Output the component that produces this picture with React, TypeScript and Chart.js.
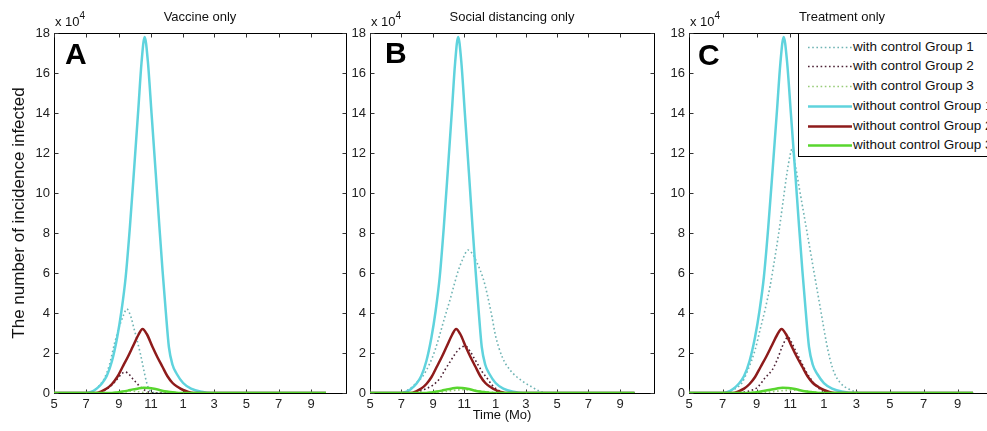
import React, { useEffect, useRef } from 'react';
import { Chart, registerables } from 'chart.js';

Chart.register(...registerables);

// ---- axis definitions ----
const xMaxDay = 554;
const xTickDays = [0, 61, 123, 184, 245, 304, 365, 426, 488];
const xTickLabels = ['5', '7', '9', '11', '1', '3', '5', '7', '9'];
const yTicks = [0, 2, 4, 6, 8, 10, 12, 14, 16, 18];

// ---- without control (same in every panel), values in x10^4 ----
const noCtrlG1Days = [0, 60, 70, 80, 90, 100, 110, 120, 128, 136, 144, 152, 160, 166, 172, 178, 185, 193, 200, 206, 212, 218, 225, 233, 245, 260, 280, 300, 516];
const noCtrlG1Vals = [0, 0, 0.05, 0.2, 0.45, 0.85, 1.6, 2.8, 4.1, 5.8, 8.3, 11.2, 14.2, 16.5, 17.8, 16.6, 14.0, 11.0, 8.3, 6.1, 4.1, 2.3, 1.4, 0.95, 0.5, 0.22, 0.06, 0, 0];
const noCtrlG2Days = [0, 80, 90, 100, 110, 120, 130, 140, 150, 160, 168, 176, 187, 196, 206, 215, 225, 235, 245, 255, 265, 516];
const noCtrlG2Vals = [0, 0, 0.08, 0.22, 0.45, 0.8, 1.3, 1.8, 2.35, 2.9, 3.2, 2.95, 2.3, 1.8, 1.3, 0.85, 0.5, 0.3, 0.15, 0.05, 0, 0];
const noCtrlG3Days = [0, 110, 120, 130, 140, 150, 160, 170, 180, 190, 200, 210, 220, 230, 240, 516];
const noCtrlG3Vals = [0, 0, 0.03, 0.07, 0.12, 0.18, 0.23, 0.26, 0.25, 0.21, 0.15, 0.09, 0.05, 0.02, 0, 0];

// ---- A: vaccine only ----
const vacG1Days = [0, 60, 75, 85, 95, 105, 115, 125, 132, 138, 146, 152, 158, 164, 170, 175, 180, 188, 200, 516];
const vacG1Vals = [0, 0, 0.1, 0.35, 0.7, 1.4, 2.5, 3.4, 3.9, 4.2, 3.8, 3.2, 2.6, 1.95, 1.2, 0.6, 0.2, 0.03, 0, 0];
const vacG2Days = [0, 80, 90, 100, 110, 120, 128, 135, 142, 148, 155, 162, 170, 178, 190, 516];
const vacG2Vals = [0, 0, 0.05, 0.2, 0.4, 0.7, 0.95, 1.05, 0.95, 0.75, 0.55, 0.35, 0.18, 0.06, 0, 0];
const vacG3Days = [0, 120, 135, 145, 155, 165, 175, 185, 516];
const vacG3Vals = [0, 0, 0.05, 0.1, 0.08, 0.04, 0.01, 0, 0];

// ---- B: social distancing only ----
const sdG1Days = [0, 60, 70, 82, 92, 102, 117, 127, 137, 146, 156, 164, 172, 181, 191, 200, 209, 221, 229, 238, 245, 258, 273, 297, 316, 330, 345, 516];
const sdG1Vals = [0, 0, 0.1, 0.3, 0.55, 0.8, 1.5, 2.15, 3.0, 3.8, 4.65, 5.4, 6.1, 6.7, 7.15, 6.95, 6.5, 5.7, 4.9, 3.8, 2.85, 1.8, 1.15, 0.6, 0.3, 0.1, 0, 0];
const sdG2Days = [0, 85, 98, 110, 123, 137, 146, 156, 166, 176, 186, 195, 203, 211, 219, 228, 238, 248, 258, 270, 516];
const sdG2Vals = [0, 0, 0.1, 0.22, 0.4, 0.75, 1.15, 1.55, 1.95, 2.25, 2.35, 2.1, 1.75, 1.4, 1.05, 0.75, 0.4, 0.18, 0.05, 0, 0];
const sdG3Days = [0, 120, 140, 160, 180, 200, 220, 240, 260, 516];
const sdG3Vals = [0, 0, 0.05, 0.12, 0.16, 0.14, 0.08, 0.03, 0, 0];

// ---- C: treatment only ----
const trG1Days = [0, 60, 75, 86, 96, 107, 120, 129, 138, 147, 155, 163, 170, 178, 183, 187, 193, 200, 207, 214, 221, 228, 235, 242, 249, 256, 264, 275, 290, 305, 320, 516];
const trG1Vals = [0, 0, 0.1, 0.25, 0.5, 1.15, 2.15, 3.15, 4.15, 5.3, 6.6, 8.0, 9.4, 11.0, 11.8, 12.2, 11.4, 10.3, 9.2, 8.1, 7.0, 5.9, 4.8, 3.7, 2.6, 1.7, 1.0, 0.5, 0.2, 0.05, 0, 0];
const trG2Days = [0, 90, 102, 115, 125, 138, 151, 160, 169, 175, 180, 186, 193, 202, 211, 220, 233, 247, 260, 516];
const trG2Vals = [0, 0, 0.05, 0.15, 0.3, 0.75, 1.15, 1.65, 2.3, 2.65, 2.8, 2.55, 2.15, 1.65, 1.15, 0.75, 0.3, 0.05, 0, 0];
const trG3Days = [0, 130, 150, 170, 190, 210, 230, 250, 516];
const trG3Vals = [0, 0, 0.06, 0.12, 0.14, 0.1, 0.04, 0, 0];

const legendLabels = [
  'with control Group 1',
  'with control Group 2',
  'with control Group 3',
  'without control Group 1',
  'without control Group 2',
  'without control Group 3',
];

const FONT = 'Arial, "Liberation Sans", Helvetica, sans-serif';
const COL_DOT1 = '#6fb4b4';
const COL_DOT2 = '#4d2235';
const COL_DOT3 = '#98cc78';
const COL_SOL1 = '#5fd3dd';
const COL_SOL2 = '#8e1b1b';
const COL_SOL3 = '#58d62e';

const pts = (d: number[], v: number[]) => d.map((x, i) => ({ x, y: v[i] }));

const boxPlugin = {
  id: 'matlabBox',
  beforeDatasetsDraw(chart: any) {
    const { ctx, chartArea: a, scales } = chart;
    const l = Math.round(a.left) + 0.5;
    const r = Math.round(a.right) + 0.5;
    const t = Math.round(a.top) + 0.5;
    const b = Math.round(a.bottom) + 0.5;
    ctx.save();
    ctx.strokeStyle = '#000';
    ctx.lineWidth = 1;
    ctx.strokeRect(l, t, r - l, b - t);
    ctx.strokeStyle = '#333';
    ctx.beginPath();
    const tl = 4;
    xTickDays.forEach((d) => {
      const x = Math.round(scales.x.getPixelForValue(d)) + 0.5;
      ctx.moveTo(x, b);
      ctx.lineTo(x, b - tl);
      ctx.moveTo(x, t);
      ctx.lineTo(x, t + tl);
    });
    yTicks.forEach((v) => {
      const y = Math.round(scales.y.getPixelForValue(v)) + 0.5;
      ctx.moveTo(l, y);
      ctx.lineTo(l + tl, y);
      ctx.moveTo(r, y);
      ctx.lineTo(r - tl, y);
    });
    ctx.stroke();
    ctx.restore();
  },
};

type PanelProps = {
  left: number;
  axisW: number;
  plotW: number;
  rightPad: number;
  g1: { x: number; y: number }[];
  g2: { x: number; y: number }[];
  g3: { x: number; y: number }[];
};

function Panel({ left, axisW, plotW, rightPad, g1, g2, g3 }: PanelProps) {
  const ref = useRef<HTMLCanvasElement>(null);
  const width = axisW + plotW + rightPad;
  useEffect(() => {
    const dotted = (label: string, data: any, color: string, order: number) => ({
      label,
      data,
      borderColor: color,
      backgroundColor: color,
      borderWidth: 1.6,
      borderDash: [1.6, 2.6],
      pointRadius: 0,
      cubicInterpolationMode: 'monotone' as const,
      fill: false,
      order,
    });
    const solid = (label: string, data: any, color: string, order: number) => ({
      label,
      data,
      borderColor: color,
      backgroundColor: color,
      borderWidth: 2.5,
      pointRadius: 0,
      cubicInterpolationMode: 'monotone' as const,
      fill: false,
      order,
    });
    const tickFont = { family: FONT, size: 13 };
    const chart = new Chart(ref.current as HTMLCanvasElement, {
      type: 'line',
      data: {
        datasets: [
          dotted(legendLabels[0], g1, COL_DOT1, 5),
          dotted(legendLabels[1], g2, COL_DOT2, 4),
          dotted(legendLabels[2], g3, COL_DOT3, 3),
          solid(legendLabels[3], pts(noCtrlG1Days, noCtrlG1Vals), COL_SOL1, 2),
          solid(legendLabels[4], pts(noCtrlG2Days, noCtrlG2Vals), COL_SOL2, 1),
          solid(legendLabels[5], pts(noCtrlG3Days, noCtrlG3Vals), COL_SOL3, 0),
        ],
      },
      options: {
        responsive: false,
        animation: false,
        events: [],
        layout: { padding: { top: 33, right: rightPad, left: 0, bottom: 0 } },
        plugins: { legend: { display: false }, tooltip: { enabled: false } },
        scales: {
          x: {
            type: 'linear',
            min: 0,
            max: xMaxDay,
            afterBuildTicks: (s: any) => {
              s.ticks = xTickDays.map((v) => ({ value: v }));
            },
            afterFit: (s: any) => {
              s.height = 38;
            },
            grid: { display: false, drawTicks: false },
            border: { display: false },
            ticks: {
              autoSkip: false,
              maxRotation: 0,
              padding: 4,
              color: '#222',
              font: tickFont,
              callback: (_v: any, i: number) => xTickLabels[i],
            },
          },
          y: {
            type: 'linear',
            min: 0,
            max: 18,
            afterBuildTicks: (s: any) => {
              s.ticks = yTicks.map((v) => ({ value: v }));
            },
            afterFit: (s: any) => {
              s.width = axisW;
            },
            grid: { display: false, drawTicks: false },
            border: { display: false },
            ticks: {
              autoSkip: false,
              padding: 4,
              color: '#222',
              font: tickFont,
              callback: (v: any) => String(v),
            },
          },
        },
      },
      plugins: [boxPlugin],
    });
    return () => chart.destroy();
  }, []);
  return (
    <canvas
      ref={ref}
      width={width}
      height={431}
      style={{ position: 'absolute', left, top: 0, width, height: 431 }}
    />
  );
}

function Abs({ style, children }: { style: React.CSSProperties; children: React.ReactNode }) {
  return <div style={{ position: 'absolute', whiteSpace: 'nowrap', color: '#111', ...style }}>{children}</div>;
}

function Exp({ left }: { left: number }) {
  return (
    <Abs style={{ left, top: 14, fontSize: 13, lineHeight: '15px' }}>
      x 10<span style={{ fontSize: 10, position: 'relative', top: -7 }}>4</span>
    </Abs>
  );
}

function Legend() {
  const rows = [14, 33, 53, 73, 93, 112];
  const styles = [
    { c: COL_DOT1, w: 1.6, d: '1.6 2.6' },
    { c: COL_DOT2, w: 1.6, d: '1.6 2.6' },
    { c: COL_DOT3, w: 1.6, d: '1.6 2.6' },
    { c: COL_SOL1, w: 2.5, d: '' },
    { c: COL_SOL2, w: 2.5, d: '' },
    { c: COL_SOL3, w: 2.5, d: '' },
  ];
  return (
    <div
      style={{
        position: 'absolute',
        left: 798,
        top: 33,
        width: 215,
        height: 124,
        boxSizing: 'border-box',
        border: '1px solid #000',
        background: '#fff',
      }}
    >
      <svg width={60} height={122} style={{ position: 'absolute', left: 0, top: 0 }}>
        {rows.map((y, i) => (
          <line
            key={i}
            x1={9}
            x2={53}
            y1={y - 1 + 0.5}
            y2={y - 1 + 0.5}
            stroke={styles[i].c}
            strokeWidth={styles[i].w}
            strokeDasharray={styles[i].d || undefined}
          />
        ))}
      </svg>
      {rows.map((y, i) => (
        <Abs key={i} style={{ left: 54, top: y - 1 - 9, fontSize: 13.5, lineHeight: '18px' }}>
          {legendLabels[i]}
        </Abs>
      ))}
    </div>
  );
}

export default function App() {
  return (
    <div
      style={{
        position: 'fixed',
        left: 0,
        top: 0,
        width: 987,
        height: 431,
        overflow: 'hidden',
        background: '#fff',
        fontFamily: FONT,
      }}
    >
      <Panel left={0} axisW={54} plotW={292} rightPad={4} g1={pts(vacG1Days, vacG1Vals)} g2={pts(vacG2Days, vacG2Vals)} g3={pts(vacG3Days, vacG3Vals)} />
      <Panel left={330} axisW={40} plotW={284} rightPad={4} g1={pts(sdG1Days, sdG1Vals)} g2={pts(sdG2Days, sdG2Vals)} g3={pts(sdG3Days, sdG3Vals)} />
      <Panel left={659} axisW={30} plotW={305} rightPad={4} g1={pts(trG1Days, trG1Vals)} g2={pts(trG2Days, trG2Vals)} g3={pts(trG3Days, trG3Vals)} />

      <Abs style={{ left: 100, width: 200, top: 9, textAlign: 'center', fontSize: 13, lineHeight: '16px' }}>Vaccine only</Abs>
      <Abs style={{ left: 412, width: 200, top: 9, textAlign: 'center', fontSize: 13, lineHeight: '16px' }}>Social distancing only</Abs>
      <Abs style={{ left: 742, width: 200, top: 9, textAlign: 'center', fontSize: 13, lineHeight: '16px' }}>Treatment only</Abs>

      <Exp left={55} />
      <Exp left={371} />
      <Exp left={690} />

      <Abs style={{ left: 65, top: 39, fontSize: 30, lineHeight: '30px', fontWeight: 'bold', color: '#000' }}>A</Abs>
      <Abs style={{ left: 385, top: 38, fontSize: 30, lineHeight: '30px', fontWeight: 'bold', color: '#000' }}>B</Abs>
      <Abs style={{ left: 698, top: 40, fontSize: 30, lineHeight: '30px', fontWeight: 'bold', color: '#000' }}>C</Abs>

      <Abs
        style={{
          left: 19 - 150,
          top: 213 - 10,
          width: 300,
          height: 20,
          lineHeight: '20px',
          fontSize: 17,
          textAlign: 'center',
          transform: 'rotate(-90deg)',
        }}
      >
        The number of incidence infected
      </Abs>
      <Abs style={{ left: 452, width: 100, top: 407, textAlign: 'center', fontSize: 13, lineHeight: '16px' }}>Time (Mo)</Abs>

      <Legend />
    </div>
  );
}
